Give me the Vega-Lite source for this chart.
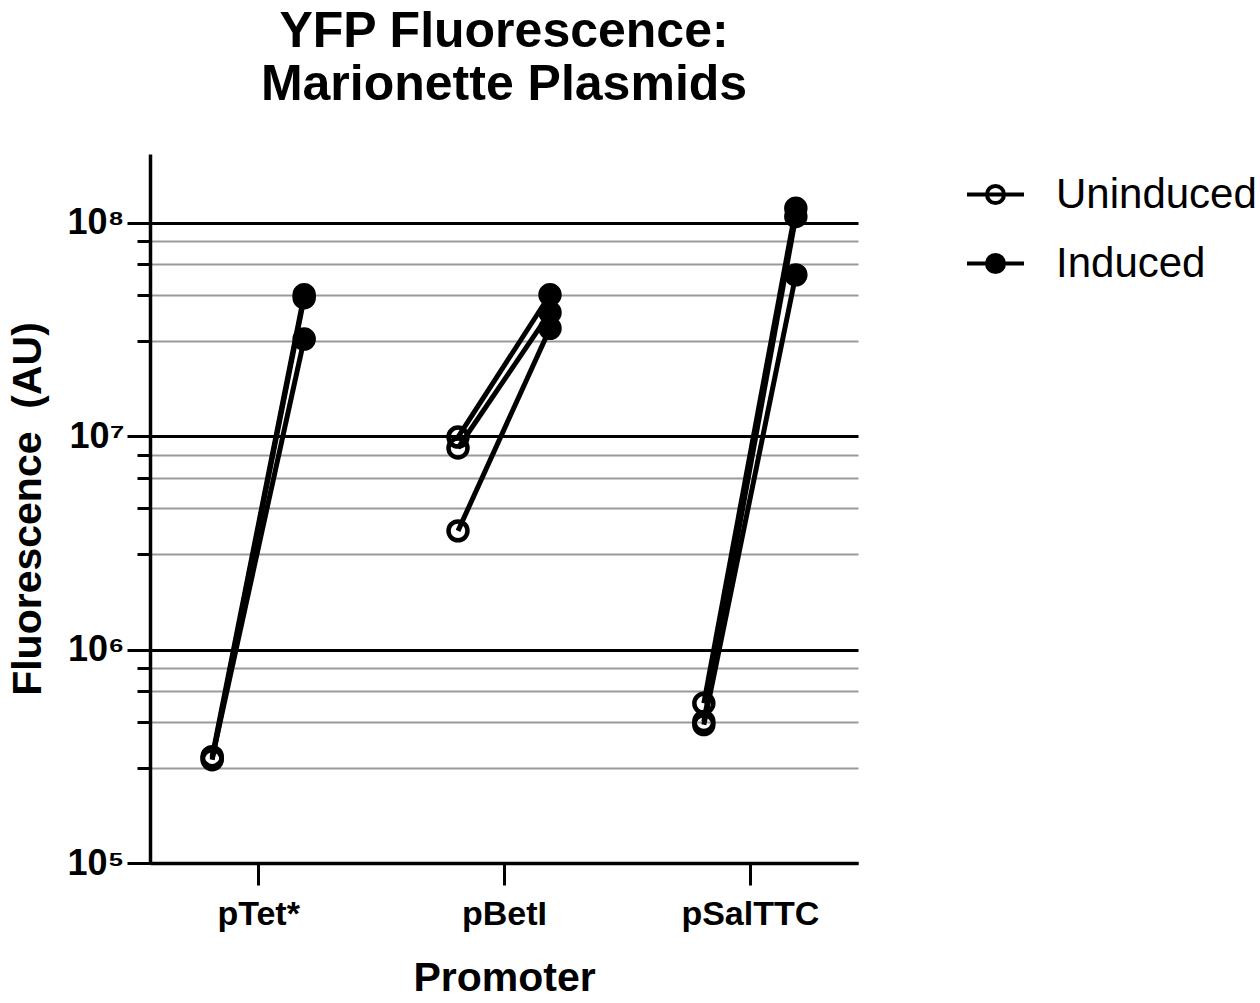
{
  "$schema": "https://vega.github.io/schema/vega-lite/v6.json",
  "width": 708,
  "height": 709,
  "autosize": "none",
  "padding": {"left": 150, "top": 154, "right": 402, "bottom": 140},
  "background": "white",
  "title": {
    "text": ["YFP Fluorescence:", "Marionette Plasmids"],
    "font": "Liberation Sans",
    "fontSize": 50,
    "fontWeight": "bold",
    "lineHeight": 53,
    "anchor": "middle",
    "frame": "group",
    "offset": 44,
    "color": "black"
  },
  "data": {
    "values": [
      {"promoter": "pTet*", "rep": 1, "condition": "Uninduced", "value": 315000},
      {"promoter": "pTet*", "rep": 1, "condition": "Induced", "value": 46000000},
      {"promoter": "pTet*", "rep": 2, "condition": "Uninduced", "value": 305000},
      {"promoter": "pTet*", "rep": 2, "condition": "Induced", "value": 44500000},
      {"promoter": "pTet*", "rep": 3, "condition": "Uninduced", "value": 310000},
      {"promoter": "pTet*", "rep": 3, "condition": "Induced", "value": 28500000},
      {"promoter": "pBetI", "rep": 1, "condition": "Uninduced", "value": 9900000},
      {"promoter": "pBetI", "rep": 1, "condition": "Induced", "value": 46000000},
      {"promoter": "pBetI", "rep": 2, "condition": "Uninduced", "value": 8800000},
      {"promoter": "pBetI", "rep": 2, "condition": "Induced", "value": 38000000},
      {"promoter": "pBetI", "rep": 3, "condition": "Uninduced", "value": 3600000},
      {"promoter": "pBetI", "rep": 3, "condition": "Induced", "value": 32000000},
      {"promoter": "pSalTTC", "rep": 1, "condition": "Uninduced", "value": 560000},
      {"promoter": "pSalTTC", "rep": 1, "condition": "Induced", "value": 117000000},
      {"promoter": "pSalTTC", "rep": 2, "condition": "Uninduced", "value": 460000},
      {"promoter": "pSalTTC", "rep": 2, "condition": "Induced", "value": 107000000},
      {"promoter": "pSalTTC", "rep": 3, "condition": "Uninduced", "value": 445000},
      {"promoter": "pSalTTC", "rep": 3, "condition": "Induced", "value": 57000000}
    ]
  },
  "encoding": {
    "x": {
      "field": "promoter",
      "type": "nominal",
      "sort": ["pTet*", "pBetI", "pSalTTC"],
      "scale": {"type": "point", "padding": 0.44},
      "axis": {
        "title": "Promoter",
        "labelAngle": 0,
        "domainColor": "black",
        "domainWidth": 3.5,
        "tickColor": "black",
        "tickWidth": 3,
        "tickSize": 22,
        "labelFont": "Liberation Sans",
        "labelFontSize": 34,
        "labelFontWeight": "bold",
        "labelColor": "black",
        "labelPadding": 12,
        "titleFont": "Liberation Sans",
        "titleFontSize": 41,
        "titleFontWeight": "bold",
        "titleColor": "black",
        "titlePadding": 27,
        "grid": false
      }
    },
    "xOffset": {
      "field": "condition",
      "type": "nominal",
      "scale": {"type": "point", "domain": ["Uninduced", "Induced"], "range": [-46, 46], "padding": 0}
    }
  },
  "layer": [
    {
      "mark": {"type": "line", "color": "black", "strokeWidth": 5},
      "encoding": {
        "detail": [{"field": "promoter"}, {"field": "rep"}],
        "y": {
          "field": "value",
          "type": "quantitative",
          "scale": {"type": "log", "domain": [100000, 210000000]},
          "axis": {
            "orient": "left",
            "values": [280000, 460000, 640000, 820000, 2800000, 4600000, 6400000, 8200000, 28000000, 46000000, 64000000, 82000000],
            "grid": true,
            "gridColor": "#9a9a9a",
            "gridWidth": 2,
            "ticks": true,
            "tickColor": "black",
            "tickWidth": 3,
            "tickSize": 13,
            "labels": false,
            "domain": false,
            "title": null
          }
        }
      }
    },
    {
      "mark": {"type": "point", "shape": "circle", "filled": true, "size": 360, "stroke": "black", "strokeWidth": 4.5, "opacity": 1},
      "encoding": {
        "fill": {
          "field": "condition",
          "type": "nominal",
          "scale": {"domain": ["Uninduced", "Induced"], "range": ["transparent", "black"]},
          "legend": {
            "title": null,
            "orient": "none",
            "legendX": 815,
            "legendY": 10,
            "symbolType": "M-1,0H1M-0.3,0A0.3,0.3 0 1,1 0.3,0A0.3,0.3 0 1,1 -0.3,0Z",
            "symbolSize": 3249,
            "symbolStrokeColor": "black",
            "symbolStrokeWidth": 4,
            "labelFont": "Liberation Sans",
            "labelFontSize": 42,
            "labelColor": "black",
            "labelOffset": 30,
            "labelLimit": 0,
            "rowPadding": 17
          }
        },
        "y": {
          "field": "value",
          "type": "quantitative",
          "scale": {"type": "log", "domain": [100000, 210000000]},
          "axis": {
            "orient": "left",
            "values": [100000, 1000000, 10000000, 100000000],
            "labelExpr": "datum.value > 50000000 ? '10⁸' : datum.value > 5000000 ? '10⁷' : datum.value > 500000 ? '10⁶' : '10⁵'",
            "grid": true,
            "gridColor": "black",
            "gridWidth": 3,
            "tickColor": "black",
            "tickWidth": 3,
            "tickSize": 23,
            "domain": true,
            "domainColor": "black",
            "domainWidth": 3.5,
            "labelFont": "Liberation Sans",
            "labelFontSize": 36,
            "labelFontWeight": "bold",
            "labelColor": "black",
            "labelPadding": 3,
            "title": "Fluorescence\u00a0 (AU)",
            "titleFont": "Liberation Sans",
            "titleFontSize": 41,
            "titleFontWeight": "bold",
            "titleColor": "black",
            "titlePadding": 17
          }
        }
      }
    }
  ],
  "resolve": {"axis": {"y": "independent"}},
  "config": {
    "view": {"stroke": null},
    "font": "Liberation Sans"
  }
}
